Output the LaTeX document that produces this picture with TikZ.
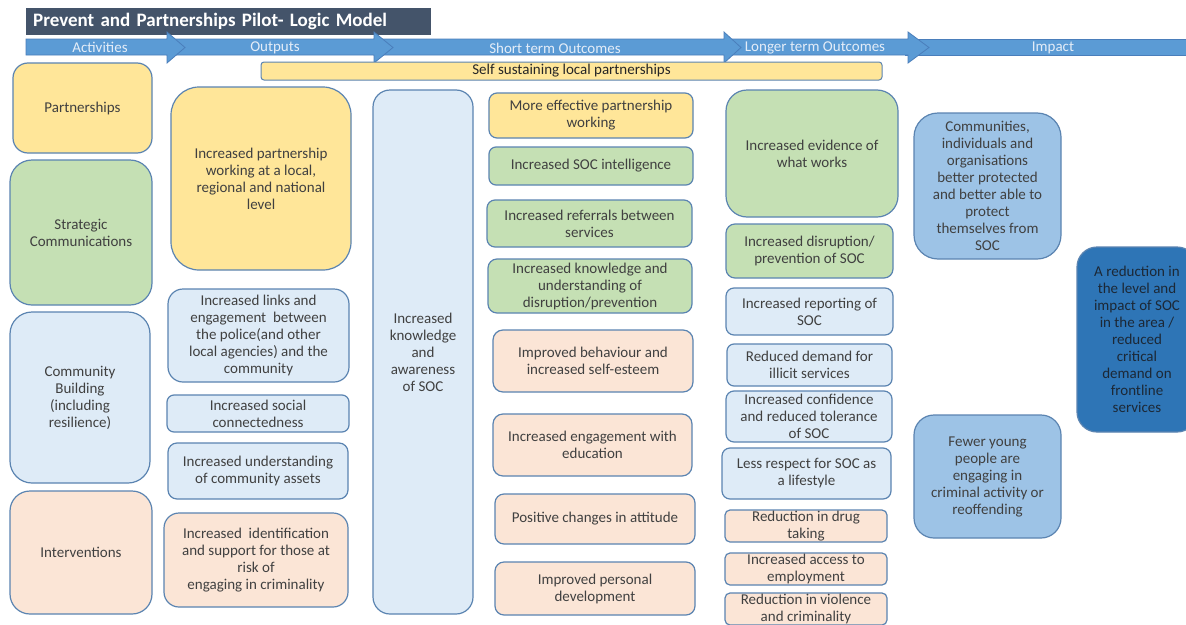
\documentclass[tikz,border=0pt]{standalone}
\usepackage{fontspec}
\setmainfont{Carlito}
\usepackage{xcolor}

\definecolor{barblue}{HTML}{5B9BD5}
\definecolor{barline}{HTML}{4A7EBB}
\definecolor{titleslate}{HTML}{44546A}
\definecolor{headtext}{HTML}{E4EDF8}
\definecolor{edgeblue}{HTML}{5B84B1}
\definecolor{fillyellow}{HTML}{FFE699}
\definecolor{fillgreen}{HTML}{C5E0B4}
\definecolor{fillblue}{HTML}{DEEBF7}
\definecolor{fillpeach}{HTML}{FBE5D6}
\definecolor{fillsky}{HTML}{9DC3E6}
\definecolor{filldeep}{HTML}{2E75B6}
\definecolor{textgrey}{HTML}{404040}
\definecolor{textnavy}{HTML}{1C2836}

\tikzset{
  logicbox/.style={draw=edgeblue, line width=1.2pt, align=center, inner sep=0pt,
    text=textgrey, font=\fontsize{15}{17}\selectfont},
  boxdim/.style n args={3}{minimum width=#1pt, minimum height=#2pt, rounded corners=#3pt},
  yellowbox/.style={logicbox, fill=fillyellow},
  greenbox/.style={logicbox, fill=fillgreen},
  bluebox/.style={logicbox, fill=fillblue},
  peachbox/.style={logicbox, fill=fillpeach},
  skybox/.style={logicbox, fill=fillsky},
  deepbox/.style={logicbox, fill=filldeep, text=textnavy},
  barshape/.style={fill=barblue, draw=barline, line width=0.8pt, line join=miter},
  headlabel/.style={text=headtext, inner sep=0pt, font=\fontsize{15}{17}\selectfont}
}

\begin{document}
\begin{tikzpicture}[x=1pt, y=-1pt]
    % Page frame
    \path[use as bounding box, fill=white] (0,0) rectangle (1186,624);
    \clip (0,0) rectangle (1186,624);

    % Title
    \node[fill=titleslate, anchor=north west, text width=391pt, inner xsep=7pt, inner ysep=0pt,
          minimum height=27pt, align=left, text=white, font=\fontsize{19}{21}\selectfont\bfseries]
          (title) at (26,8) {Prevent and Partnerships Pilot- Logic Model};

    % Stage arrows, drawn right to left so each head lies on the next body
    \draw[barshape] (905,39) rectangle (1195,55);
    \foreach \xa/\xb/\xc in {725/908/929, 374/724/741, 167/374/393, 26/167/185}
        \draw[barshape] (\xa,39) -- (\xb,39) -- (\xb,32) -- (\xc,47.5) -- (\xb,63) -- (\xb,55) -- (\xa,55) -- cycle;

    \node[headlabel] (hact) at (100,47) {Activities};
    \node[headlabel] (hout) at (275,48) {Outputs};
    \node[headlabel] (hshort) at (555,48) {Short term Outcomes};
    \node[headlabel] (hlong) at (815,48) {Longer term Outcomes};
    \node[headlabel] (himp) at (1053,48) {Impact};

    % Self sustaining bar
    \node[yellowbox, line width=1pt, boxdim={621}{18}{3}, text=black!85] (selfsus) at (571.5,71) {Self sustaining local partnerships};

    % Activities
    \node[yellowbox, boxdim={139}{90}{15}] (part) at (82.5,108) {Partnerships};
    \node[greenbox, boxdim={142}{145}{22}] (strat) at (81,232.5) {Strategic\\Communications};
    \node[bluebox, boxdim={140}{171}{22}] (comm) at (80,397.5) {Community\\Building\\(including\\resilience)};
    \node[peachbox, boxdim={142}{123}{20}] (interv) at (81,552.5) {Interventions};

    % Outputs
    \node[yellowbox, boxdim={180}{183}{28}] (opart) at (261,178.5) {Increased partnership\\working at a local,\\regional and national\\level};
    \node[bluebox, boxdim={181}{93}{15}] (olinks) at (258.5,335.5) {Increased links and\\engagement\ \ between\\the police(and other\\local agencies) and the\\community};
    \node[bluebox, boxdim={182}{37}{7}] (osocial) at (258,413.5) {Increased social\\connectedness};
    \node[bluebox, boxdim={180}{56}{9}] (oassets) at (258,471) {Increased understanding\\of community assets};
    \node[peachbox, boxdim={184}{94}{15}] (oident) at (256,560) {Increased\ \ identification\\and support for those at\\risk of\\engaging in criminality};
    \node[bluebox, boxdim={100}{524}{17}] (oknow) at (423,352) {Increased\\knowledge\\and\\awareness\\of SOC};

    % Short term outcomes
    \node[yellowbox, boxdim={204}{45}{8}] (seffect) at (591,115.5) {More effective partnership\\working};
    \node[greenbox, boxdim={204}{38}{7}] (sintel) at (591,166) {Increased SOC intelligence};
    \node[greenbox, boxdim={205}{47}{8}] (sref) at (589.5,223.5) {Increased referrals between\\services};
    \node[greenbox, boxdim={204}{54}{9}] (sknow) at (590,286) {Increased knowledge and\\understanding of\\disruption/prevention};
    \node[peachbox, boxdim={200}{62}{10}] (sbehav) at (593,361) {Improved behaviour and\\increased self-esteem};
    \node[peachbox, boxdim={199}{62}{10}] (seduc) at (592.5,445) {Increased engagement with\\education};
    \node[peachbox, boxdim={200}{50}{9}] (sattit) at (595,519) {Positive changes in attitude};
    \node[peachbox, boxdim={200}{53}{9}] (spers) at (595,588.5) {Improved personal\\development};

    % Longer term outcomes
    \node[greenbox, boxdim={172}{127}{21}] (levid) at (812,153.5) {Increased evidence of\\what works};
    \node[greenbox, boxdim={167}{54}{9}] (ldisr) at (809.5,251) {Increased disruption/\\prevention of SOC};
    \node[bluebox, boxdim={167}{47}{8}] (lrep) at (809.5,311.5) {Increased reporting of\\SOC};
    \node[bluebox, boxdim={165}{42}{7}] (ldem) at (809.5,365) {Reduced demand for\\illicit services};
    \node[bluebox, boxdim={166}{51}{8}] (lconf) at (809,416.5) {Increased confidence\\and reduced tolerance\\of SOC};
    \node[bluebox, boxdim={169}{51}{8}] (lresp) at (806.5,473.5) {Less respect for SOC as\\a lifestyle};
    \node[peachbox, boxdim={162}{32}{5}] (ldrug) at (806,526) {Reduction in drug\\taking};
    \node[peachbox, boxdim={162}{32}{5}] (lemp) at (806,569) {Increased access to\\employment};
    \node[peachbox, boxdim={162}{32}{5}] (lviol) at (806,609) {Reduction in violence\\and criminality};

    % Impact
    \node[skybox, boxdim={147}{146}{24}] (icomm) at (987.5,186) {Communities,\\individuals and\\organisations\\better protected\\and better able to\\protect\\themselves from\\SOC};
    \node[skybox, boxdim={147}{123}{20}] (iyoung) at (987.5,476.5) {Fewer young\\people are\\engaging in\\criminal activity or\\reoffending};
    \node[deepbox, boxdim={120}{185}{20}] (ireduce) at (1137,339.5) {A reduction in\\the level and\\impact of SOC\\in the area /\\reduced\\critical\\demand on\\frontline\\services};
\end{tikzpicture}
\end{document}
